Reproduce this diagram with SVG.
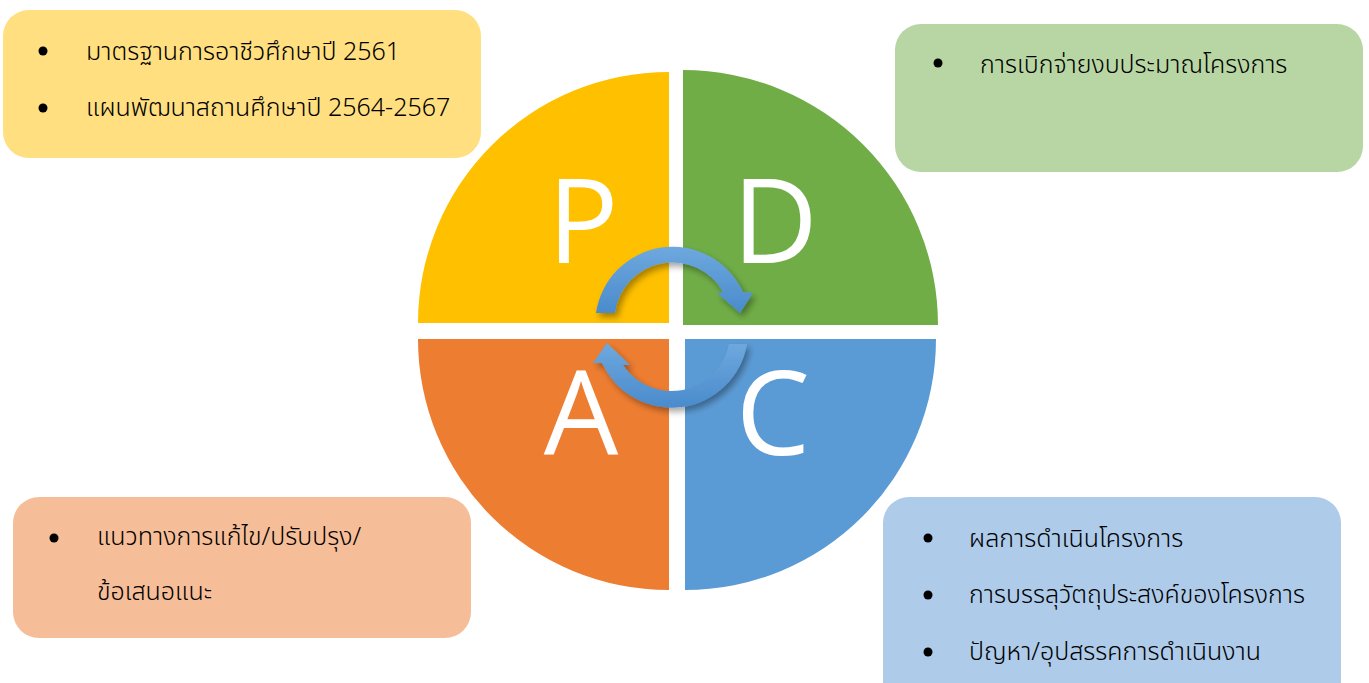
<svg xmlns="http://www.w3.org/2000/svg" width="1369" height="683" viewBox="0 0 1369 683">
<defs>
<style>
.t{font-family:"Noto Sans Thai","Leelawadee UI",Tahoma,"Noto Sans","DejaVu Sans",sans-serif;font-size:25px;font-weight:300;fill:#000}
.big{font-family:"Open Sans","Noto Sans",sans-serif;font-size:118px;fill:#fff;text-anchor:middle}
.arrow{fill:url(#ag);filter:url(#sh)}
</style>
<linearGradient id="ag" x1="0" y1="0" x2="0" y2="1">
<stop offset="0" stop-color="#6ea8de"/>
<stop offset="1" stop-color="#4a8bcc"/>
</linearGradient>
<filter id="sh" x="-20%" y="-20%" width="150%" height="150%">
<feDropShadow dx="3" dy="4" stdDeviation="3" flood-color="#000" flood-opacity="0.35"/>
</filter>
</defs>
<rect width="1369" height="683" fill="#fff"/>
<g id="box-plan">
<rect x="3" y="10" width="478" height="148" rx="26" fill="#ffdf80"/>
<circle cx="43" cy="51" r="4.5" fill="#000"/>
<text class="t" x="86" y="60">มาตรฐานการอาชีวศึกษาปี 2561</text>
<circle cx="43" cy="108" r="4.5" fill="#000"/>
<text class="t" x="86" y="116">แผนพัฒนาสถานศึกษาปี 2564-2567</text>
</g>
<g id="box-do">
<rect x="895" y="24" width="468" height="148" rx="26" fill="#b8d6a4"/>
<circle cx="938" cy="63" r="4.5" fill="#000"/>
<text class="t" x="980" y="73">การเบิกจ่ายงบประมาณโครงการ</text>
</g>
<g id="box-act">
<rect x="13" y="497" width="458" height="141" rx="26" fill="#f6be98"/>
<circle cx="54" cy="538" r="4.5" fill="#000"/>
<text class="t" x="97" y="545">แนวทางการแก้ไข/ปรับปรุง/</text>
<text class="t" x="97" y="600">ข้อเสนอแนะ</text>
</g>
<g id="box-check">
<rect x="883" y="497" width="458" height="210" rx="26" fill="#aecbea"/>
<circle cx="928" cy="538" r="4.5" fill="#000"/>
<text class="t" x="969" y="547">ผลการดำเนินโครงการ</text>
<circle cx="928" cy="595" r="4.5" fill="#000"/>
<text class="t" x="969" y="603">การบรรลุวัตถุประสงค์ของโครงการ</text>
<circle cx="928" cy="652" r="4.5" fill="#000"/>
<text class="t" x="969" y="660">ปัญหา/อุปสรรคการดำเนินงาน</text>
</g>
<g id="q-plan">
<path d="M669,323 L418,323 A251,251 0 0 1 669,72 Z" fill="#ffc000"/>
<text class="big" x="583" y="263">P</text>
</g>
<g id="q-do">
<path d="M683,325 L683,70 A255,255 0 0 1 938,325 Z" fill="#70ad47"/>
<text class="big" x="775" y="263">D</text>
</g>
<g id="q-act">
<path d="M669,339 L669,590 A251,251 0 0 1 418,339 Z" fill="#ed7d31"/>
<text class="big" x="581" y="455">A</text>
</g>
<g id="q-check">
<path d="M685,339 L936,339 A251,251 0 0 1 685,590 Z" fill="#5b9bd5"/>
<text class="big" x="773" y="455">C</text>
</g>
<g id="connectors">
<path class="arrow" d="M596,313 A77.4,77.4 0 0 1 743,292 L753,293 L740,313 L717,293 L723,292 A58,58 0 0 0 615,313 Z"/>
<path class="arrow" d="M747,344 A76.5,76.5 0 0 1 602,363 L593,363 L607,343 L630,365 L623,365 A58.5,58.5 0 0 0 729,344 Z"/>
</g>
</svg>
